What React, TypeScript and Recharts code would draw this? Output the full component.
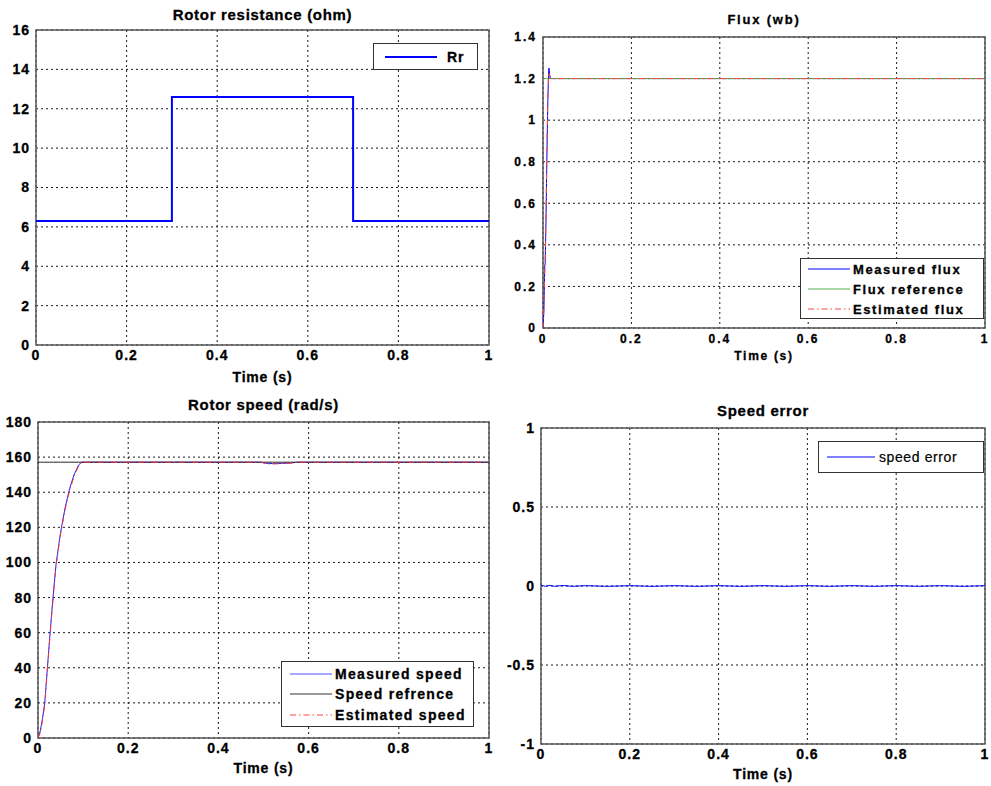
import { LineChart, Line, XAxis, YAxis, CartesianGrid, ReferenceArea, Legend } from "recharts";

const timeTicks = [0, 0.2, 0.4, 0.6, 0.8, 1];

// rotor resistance (step profile)
const rrTime = [0, 0.3, 0.3, 0.7, 0.7, 1];
const rrValue = [6.3, 6.3, 12.6, 12.6, 6.3, 6.3];
const rrTicks = [0, 2, 4, 6, 8, 10, 12, 14, 16];

// flux
const fluxTime = [0, 0.002, 0.004, 0.005, 0.007, 0.009, 0.011, 0.0125, 0.0135, 0.015, 0.017, 0.02, 0.1, 0.5, 1];
const fluxMeasured = [0, 0.08, 0.3, 0.31, 0.55, 0.85, 1.1, 1.22, 1.25, 1.22, 1.2, 1.2, 1.2, 1.2, 1.2];
const fluxReference = [1.2, 1.2, 1.2, 1.2, 1.2, 1.2, 1.2, 1.2, 1.2, 1.2, 1.2, 1.2, 1.2, 1.2, 1.2];
const fluxEstimated = [0, 0.1, 0.28, 0.33, 0.58, 0.88, 1.12, 1.2, 1.23, 1.21, 1.2, 1.2, 1.2, 1.2, 1.2];
const fluxTicks = [0, 0.2, 0.4, 0.6, 0.8, 1, 1.2, 1.4];

// rotor speed
const speedTime = [0, 0.005, 0.01, 0.015, 0.02, 0.025, 0.03, 0.035, 0.04, 0.045, 0.05, 0.06, 0.07, 0.08, 0.09, 0.097, 0.3, 0.495, 0.505, 0.52, 0.54, 0.56, 0.575, 0.8, 1];
const speedMeasured = [0, 4, 11, 20, 37, 54, 70, 85, 99, 108, 117, 131, 142, 150, 155.5, 157.1, 157.1, 157.1, 156.5, 156.3, 156.4, 156.6, 157.1, 157.1, 157.1];
const speedReference = [157.1, 157.1, 157.1, 157.1, 157.1, 157.1, 157.1, 157.1, 157.1, 157.1, 157.1, 157.1, 157.1, 157.1, 157.1, 157.1, 157.1, 157.1, 157.1, 157.1, 157.1, 157.1, 157.1, 157.1, 157.1];
const speedEstimated = [0, 3, 10, 19, 36, 53, 69, 84, 98, 107, 116, 130, 141, 149, 155, 157.1, 157.1, 157.1, 156.2, 156.1, 156.3, 156.6, 157.1, 157.1, 157.1];
const speedTicks = [0, 20, 40, 60, 80, 100, 120, 140, 160, 180];

// speed error
const errTime = [0, 0.01, 0.02, 0.03, 0.05, 0.07, 0.1, 0.15, 0.2, 0.25, 0.3, 0.35, 0.4, 0.45, 0.5, 0.55, 0.6, 0.65, 0.7, 0.75, 0.8, 0.85, 0.9, 0.95, 1];
const errValue = [0.005, -0.002, 0.004, -0.002, 0.003, -0.002, 0.002, -0.002, 0.002, -0.002, 0.002, -0.002, 0.002, -0.002, 0.002, -0.002, 0.002, -0.002, 0.002, -0.002, 0.002, -0.002, 0.002, -0.002, 0.002];
const errTicks = [-1, -0.5, 0, 0.5, 1];

const FONT = '"Liberation Sans", Arial, sans-serif';

type Box = { x0: number; y0: number; x1: number; y1: number };
type Item = { name: string; color: string; width?: number; dash?: string; bold?: boolean };
type Fonts = { tick: number; tickLs: number; label: number; labelLs: number; title: number; titleLs: number };

const bigFonts: Fonts = { tick: 14, tickLs: 1, label: 14, labelLs: 0.8, title: 15, titleLs: 0.7 };
const smallFonts: Fonts = { tick: 12, tickLs: 2, label: 12, labelLs: 1.7, title: 13, titleLs: 1.8 };

function LegendBox({ items, w, h, rowH, lineLen, padL, gap, font, ls }: {
  items: Item[]; w: number; h: number; rowH: number; lineLen: number; padL: number; gap: number; font: number; ls: number;
}) {
  return (
    <div style={{
      width: w, height: h, boxSizing: "border-box", border: "1px solid #333", background: "#fff",
      paddingLeft: padL, paddingTop: (h - 2 - rowH * items.length) / 2, fontFamily: FONT,
    }}>
      {items.map((it) => (
        <div key={it.name} style={{ display: "flex", alignItems: "center", height: rowH }}>
          <svg width={lineLen} height={6} style={{ display: "block" }}>
            <line x1={0} y1={3} x2={lineLen} y2={3} stroke={it.color} strokeWidth={it.width ?? 1} strokeDasharray={it.dash} />
          </svg>
          <span style={{
            marginLeft: gap, fontSize: font, letterSpacing: ls, fontWeight: it.bold === false ? 400 : 700,
            color: "#000", whiteSpace: "nowrap", lineHeight: 1, WebkitTextStroke: it.bold === false ? "0.2px #000" : "0.3px #000",
          }}>{it.name}</span>
        </div>
      ))}
    </div>
  );
}

function Panel({ box, data, yDomain, yTicks, fonts, title, titleY, tickGap, labelOffset, legendPos, legend, children }: {
  box: Box; data: any[]; yDomain: [number, number]; yTicks: number[]; fonts: Fonts; title: string; titleY: number;
  tickGap: number; labelOffset: number; legendPos: { x: number; y: number }; legend: any; children: any;
}) {
  const left = box.x0 - 45;
  const top = box.y0 - 10;
  const width = box.x1 - box.x0 + 55;
  const height = box.y1 - box.y0 + 55;
  const tickStyle = {
    fill: "#000", stroke: "#000", strokeWidth: 0.3, fontSize: fonts.tick, fontWeight: 700,
    fontFamily: FONT, letterSpacing: fonts.tickLs,
  };
  return (
    <>
      <div style={{
        position: "absolute", left: (box.x0 + box.x1) / 2 - 200, width: 400, top: titleY - fonts.title * 0.6,
        textAlign: "center", fontFamily: FONT, fontWeight: 700, fontSize: fonts.title, letterSpacing: fonts.titleLs,
        lineHeight: `${Math.round(fonts.title * 1.2)}px`, color: "#000", WebkitTextStroke: "0.3px #000",
      }}>{title}</div>
      <div style={{ position: "absolute", left, top }}>
        <LineChart width={width} height={height} data={data} margin={{ top: 10, right: 10, bottom: 0, left: 0 }}>
          <CartesianGrid stroke="#000" strokeDasharray="2 3" strokeWidth={0.9} />
          <XAxis
            type="number" dataKey="t" domain={[0, 1]} ticks={timeTicks} height={45}
            tickSize={0} tickMargin={tickGap} axisLine={false} tick={tickStyle} allowDataOverflow
            label={{
              value: "Time (s)", position: "insideBottom", offset: labelOffset,
              style: {
                fill: "#000", stroke: "#000", strokeWidth: 0.3, fontSize: fonts.label, fontWeight: 700,
                fontFamily: FONT, letterSpacing: fonts.labelLs,
              },
            }}
          />
          <YAxis
            type="number" domain={yDomain} ticks={yTicks} width={45} tickSize={0} tickMargin={6}
            axisLine={false} tick={tickStyle} allowDataOverflow interval={0}
          />
          <ReferenceArea x1={0} x2={1} y1={yDomain[0]} y2={yDomain[1]} fill="none" fillOpacity={0} stroke="#555" strokeWidth={1.5} />
          {children}
          <Legend
            layout="vertical" align="center" verticalAlign="middle"
            wrapperStyle={{ left: legendPos.x - left, top: legendPos.y - top, width: "auto" }}
            content={() => legend}
          />
        </LineChart>
      </div>
    </>
  );
}

export default function App() {
  const rrData = rrTime.map((t, i) => ({ t, rr: rrValue[i] }));
  const fluxData = fluxTime.map((t, i) => ({ t, measured: fluxMeasured[i], reference: fluxReference[i], estimated: fluxEstimated[i] }));
  const speedData = speedTime.map((t, i) => ({ t, measured: speedMeasured[i], reference: speedReference[i], estimated: speedEstimated[i] }));
  const errData = errTime.map((t, i) => ({ t, err: errValue[i] }));

  const rrItems: Item[] = [{ name: "Rr", color: "#0000ff", width: 2 }];
  const fluxItems: Item[] = [
    { name: "Measured flux", color: "#0000ff" },
    { name: "Flux reference", color: "#55b055" },
    { name: "Estimated flux", color: "#ff4444", dash: "6 3 1.5 3" },
  ];
  const speedItems: Item[] = [
    { name: "Measured speed", color: "#5050ff" },
    { name: "Speed refrence", color: "#333" },
    { name: "Estimated speed", color: "#ff4444", dash: "6 3 1.5 3" },
  ];
  const errItems: Item[] = [{ name: "speed error", color: "#0000ff", bold: false }];

  return (
    <div style={{ position: "absolute", left: 0, top: 0, width: 991, height: 786, background: "#fff", overflow: "hidden" }}>
      <Panel
        box={{ x0: 36, y0: 30, x1: 489, y1: 345 }} data={rrData} yDomain={[0, 16]} yTicks={rrTicks}
        fonts={bigFonts} title="Rotor resistance (ohm)" titleY={15} tickGap={5} labelOffset={8}
        legendPos={{ x: 373, y: 43 }}
        legend={<LegendBox items={rrItems} w={105} h={27} rowH={20} lineLen={52} padL={11} gap={10} font={14} ls={1} />}
      >
        <Line type="linear" dataKey="rr" stroke="#0000ff" strokeWidth={2} dot={false} isAnimationActive={false} />
      </Panel>

      <Panel
        box={{ x0: 543, y0: 37, x1: 985, y1: 328 }} data={fluxData} yDomain={[0, 1.4]} yTicks={fluxTicks}
        fonts={smallFonts} title="Flux (wb)" titleY={20} tickGap={6} labelOffset={13}
        legendPos={{ x: 800, y: 258 }}
        legend={<LegendBox items={fluxItems} w={184} h={61} rowH={20} lineLen={42} padL={7} gap={3} font={13} ls={1.6} />}
      >
        <Line type="linear" dataKey="measured" stroke="#0000ff" strokeWidth={1} dot={false} isAnimationActive={false} />
        <Line type="linear" dataKey="reference" stroke="#55b055" strokeWidth={1} dot={false} isAnimationActive={false} />
        <Line type="linear" dataKey="estimated" stroke="#ff4444" strokeWidth={1} strokeDasharray="6 3 1.5 3" dot={false} isAnimationActive={false} />
      </Panel>

      <Panel
        box={{ x0: 38, y0: 422, x1: 489, y1: 738 }} data={speedData} yDomain={[0, 180]} yTicks={speedTicks}
        fonts={bigFonts} title="Rotor speed (rad/s)" titleY={405} tickGap={5} labelOffset={10}
        legendPos={{ x: 281, y: 661 }}
        legend={<LegendBox items={speedItems} w={193} h={66} rowH={20.5} lineLen={42} padL={8} gap={3} font={14} ls={1.3} />}
      >
        <Line type="linear" dataKey="measured" stroke="#2020ff" strokeWidth={1} dot={false} isAnimationActive={false} />
        <Line type="linear" dataKey="reference" stroke="#222" strokeWidth={1} dot={false} isAnimationActive={false} />
        <Line type="linear" dataKey="estimated" stroke="#ff3333" strokeWidth={1} strokeDasharray="6 3 1.5 3" dot={false} isAnimationActive={false} />
      </Panel>

      <Panel
        box={{ x0: 541, y0: 428, x1: 985, y1: 744 }} data={errData} yDomain={[-1, 1]} yTicks={errTicks}
        fonts={bigFonts} title="Speed error" titleY={411} tickGap={5} labelOffset={10}
        legendPos={{ x: 818, y: 441 }}
        legend={<LegendBox items={errItems} w={166} h={32} rowH={20} lineLen={48} padL={8} gap={4} font={14} ls={0.6} />}
      >
        <Line type="linear" dataKey="err" stroke="#0000ff" strokeWidth={1} dot={false} isAnimationActive={false} />
      </Panel>
    </div>
  );
}
